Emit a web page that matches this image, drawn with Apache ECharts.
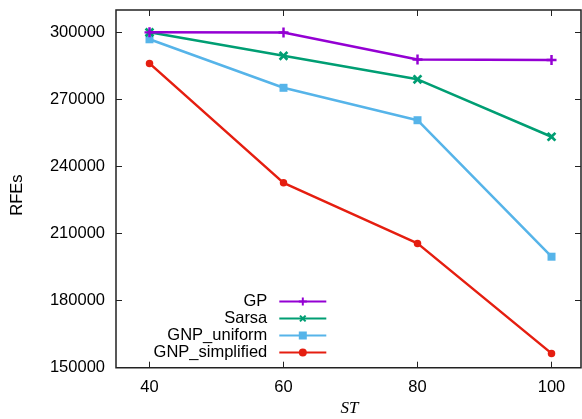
<!DOCTYPE html>
<html>
<head>
<meta charset="utf-8">
<script src="https://cdn.jsdelivr.net/npm/echarts@6/dist/echarts.min.js"></script>
<style>html,body{margin:0;padding:0;background:#fff}#c{width:582px;height:419px}</style>
</head>
<body>
<div id="c"></div>
<script>
const stValues = [40, 60, 80, 100];
const xTicks = [40, 60, 80, 100];
const yTicks = [150000, 180000, 210000, 240000, 270000, 300000];
const seriesNames = ['GP', 'Sarsa', 'GNP_uniform', 'GNP_simplified'];
const gp = [300000, 299900, 287900, 287600];
const sarsa = [300000, 289500, 279000, 253300];
const gnpUniform = [296900, 275200, 260700, 199650];
const gnpSimplified = [286100, 232700, 205600, 156400];

const colors = ['#9400d3', '#009e73', '#56b4e9', '#e51e10'];
const plusPath = 'path://M4,0h2.6v4h4v2.6h-4v4h-2.6v-4h-4v-2.6h4z';
const symbols = [plusPath, plusPath, 'rect', 'circle'];
const symRot = [0, 45, 0, 0];
const symSize = [10, 11, 8, 7.5];
const allData = [gp, sarsa, gnpUniform, gnpSimplified];

const font = 'Liberation Sans, Arial, sans-serif';
const chart = echarts.init(document.getElementById('c'), null, {renderer: 'canvas'});

const series = seriesNames.map((n, i) => ({
  name: n,
  type: 'line',
  data: stValues.map((x, j) => [x, allData[i][j]]),
  symbol: symbols[i],
  symbolRotate: symRot[i],
  symbolSize: symSize[i],
  showAllSymbol: true,
  lineStyle: {color: colors[i], width: 2.5},
  itemStyle: {color: colors[i]},
  animation: false,
  z: 10 - i
}));

chart.setOption({
  animation: false,
  grid: {left: 116, top: 10, right: 1, bottom: 51.3, show: true, borderColor: '#222', borderWidth: 1.5},
  xAxis: [{
    type: 'value', min: 35, max: 104.4, position: 'bottom',
    axisLine: {show: false},
    splitLine: {show: false},
    axisTick: {show: true, inside: true, length: 6, customValues: xTicks, lineStyle: {color: '#222', width: 1}},
    axisLabel: {customValues: xTicks, fontFamily: font, fontSize: 16.5, color: '#000', margin: 11}
  }, {
    type: 'value', min: 35, max: 104.4, position: 'top',
    axisLine: {show: false},
    splitLine: {show: false},
    axisTick: {show: true, inside: true, length: 6, customValues: xTicks, lineStyle: {color: '#222', width: 1}},
    axisLabel: {show: false}
  }],
  yAxis: [{
    type: 'value', min: 150000, max: 310000, position: 'left',
    axisLine: {show: false},
    splitLine: {show: false},
    axisTick: {show: true, inside: true, length: 6, customValues: yTicks, lineStyle: {color: '#222', width: 1}},
    axisLabel: {customValues: yTicks, formatter: v => String(v), fontFamily: font, fontSize: 16.5, color: '#000', margin: 11}
  }, {
    type: 'value', min: 150000, max: 310000, position: 'right',
    axisLine: {show: false},
    splitLine: {show: false},
    axisTick: {show: true, inside: true, length: 6, customValues: yTicks, lineStyle: {color: '#222', width: 1}},
    axisLabel: {show: false}
  }],
  legend: {
    orient: 'vertical',
    align: 'right',
    right: 254.7,
    top: 293,
    itemWidth: 47,
    itemHeight: 10,
    itemGap: 0,
    padding: 0,
    data: seriesNames,
    textStyle: {fontFamily: font, fontSize: 16.5, color: '#000', lineHeight: 17, padding: [0, 7, 0, 0]}
  },
  graphic: [
    {type: 'text', x: 17, y: 195, rotation: Math.PI / 2,
     style: {text: 'RFEs', font: '16.5px Liberation Sans, Arial, sans-serif', fill: '#000', align: 'center', verticalAlign: 'middle'}},
    {type: 'text', x: 349.5, y: 409,
     style: {text: 'ST', font: 'italic 17px Liberation Serif, Times New Roman, serif', fill: '#000', align: 'center', verticalAlign: 'middle'}}
  ],
  series: series
});
</script>
</body>
</html>
